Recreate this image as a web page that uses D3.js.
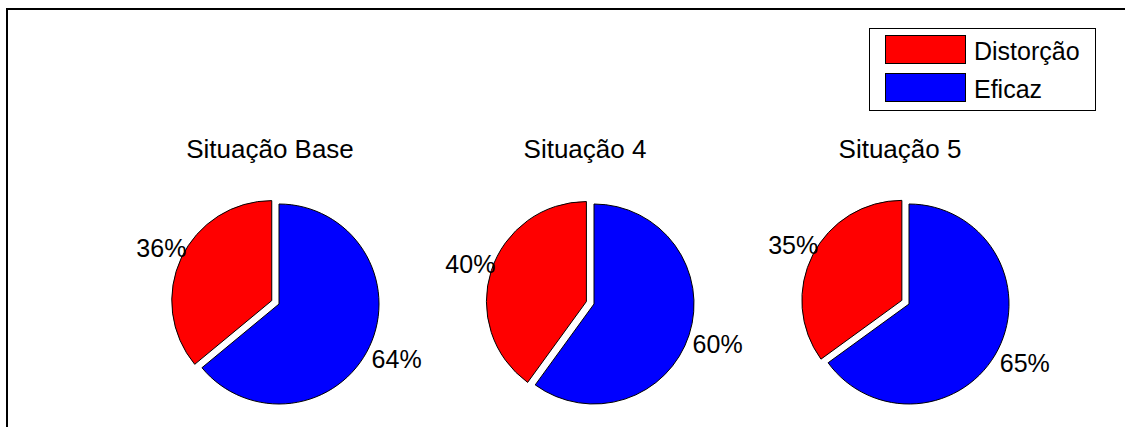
<!DOCTYPE html>
<html>
<head>
<meta charset="utf-8">
<script src="https://cdn.jsdelivr.net/npm/d3@7"></script>
<style>
  html, body { margin: 0; padding: 0; background: #fff; }
  svg { display: block; font-family: "Liberation Sans", Arial, sans-serif; }
</style>
</head>
<body>
<svg id="chart" width="1125" height="427"></svg>
<script>
const titles = ["Situação Base", "Situação 4", "Situação 5"];
const categories = ["Distorção", "Eficaz"];
const distorcao = [36, 40, 35];
const eficaz = [64, 60, 65];
const exploded = [true, false];

const W = 1125, H = 427;
const svg = d3.select("#chart");
const colors = d3.scaleOrdinal().domain(categories).range(["#ff0000", "#0000ff"]);

// frame (top and left)
svg.append("path")
  .attr("d", `M7,${H} L7,9 L${W},9`)
  .attr("fill", "none").attr("stroke", "#000").attr("stroke-width", 2);

const R = 100;
const cx = d3.scalePoint().domain(titles).range([279, 909]);
const cy = 304;

const pie = d3.pie().sort(null).value(d => d.value)
  .startAngle(0).endAngle(-2 * Math.PI);
const arc = d3.arc().innerRadius(0).outerRadius(R);

titles.forEach((t, i) => {
  const data = [
    { cat: categories[0], value: distorcao[i], explode: exploded[0] },
    { cat: categories[1], value: eficaz[i], explode: exploded[1] }
  ];
  const g = svg.append("g").attr("transform", `translate(${cx(t)},${cy})`);
  const arcs = pie(data);
  arcs.forEach(a => {
    const mid = (a.startAngle + a.endAngle) / 2;
    const ex = a.data.explode ? 0.08 * R : 0;
    g.append("path")
      .attr("d", arc(a))
      .attr("transform", `translate(${ex * Math.sin(mid)},${-ex * Math.cos(mid)})`)
      .attr("fill", colors(a.data.cat))
      .attr("stroke", "#000").attr("stroke-width", 1)
      .attr("stroke-linejoin", "round");
    const lr = 1.3 * R;
    g.append("text")
      .attr("x", lr * Math.sin(mid))
      .attr("y", -lr * Math.cos(mid))
      .attr("dy", "0.35em")
      .attr("text-anchor", "middle")
      .attr("font-size", 25)
      .attr("fill", "#000")
      .text(a.data.value + "%");
  });
  svg.append("text")
    .attr("x", cx(t) - 9)
    .attr("y", 158)
    .attr("text-anchor", "middle")
    .attr("font-size", 26)
    .attr("fill", "#000")
    .text(t);
});

// legend
const lg = svg.append("g");
lg.append("rect").attr("x", 869.5).attr("y", 28.5).attr("width", 226).attr("height", 82)
  .attr("fill", "#fff").attr("stroke", "#000").attr("stroke-width", 1);
categories.forEach((c, i) => {
  const y0 = 35 + i * 38;
  lg.append("rect").attr("x", 885.5).attr("y", y0 + 0.5).attr("width", 80).attr("height", 28)
    .attr("fill", colors(c)).attr("stroke", "#000").attr("stroke-width", 1);
  lg.append("text").attr("x", 974).attr("y", y0 + 24.5)
    .attr("font-size", 25).attr("fill", "#000").text(c);
});
</script>
</body>
</html>
